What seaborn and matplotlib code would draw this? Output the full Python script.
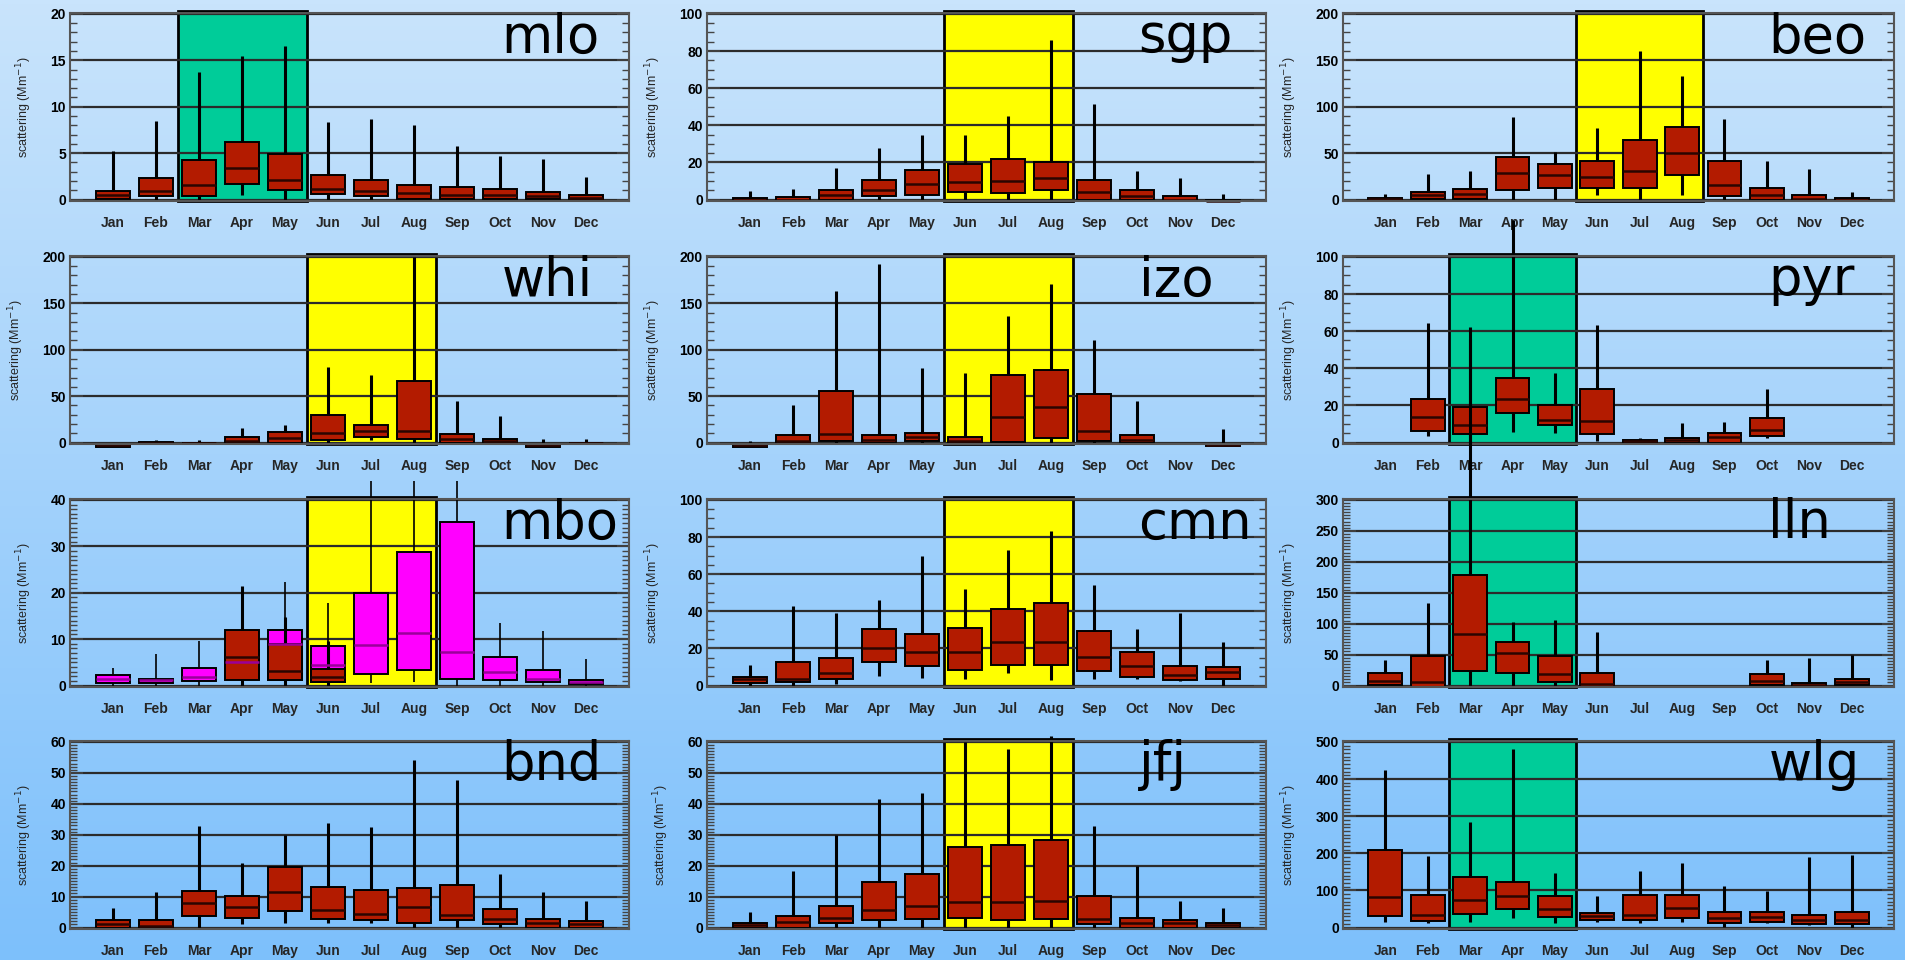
import matplotlib

matplotlib.use("Agg")
import matplotlib.pyplot as plt
import numpy as np
import pandas as pd
import seaborn as sns
from matplotlib.colors import LinearSegmentedColormap
from matplotlib.patches import Rectangle
from matplotlib.ticker import AutoMinorLocator, MultipleLocator

sns.set_theme(style="white")
plt.rcParams["font.family"] = ["Liberation Sans", "DejaVu Sans"]

MONTHS = ["Jan", "Feb", "Mar", "Apr", "May", "Jun",
          "Jul", "Aug", "Sep", "Oct", "Nov", "Dec"]

# monthly (whisker low, Q1, median, Q3, whisker high); None = no data
mlo = [(0, 0.05, 0.45, 0.95, 5.2), (0, 0.4, 0.93, 2.36, 8.5), (0, 0.4, 1.6, 4.3, 13.7),
       (0.45, 1.7, 3.4, 6.2, 15.5), (0, 1.0, 2.1, 4.9, 16.5), (0, 0.55, 1.1, 2.6, 8.4),
       (0, 0.4, 0.93, 2.1, 8.7), (0, 0.07, 0.75, 1.6, 8.0), (0, 0.07, 0.5, 1.4, 5.8),
       (0, 0.07, 0.45, 1.1, 4.7), (0, 0.05, 0.35, 0.8, 4.4), (0, 0.05, 0.2, 0.5, 2.4)]
sgp = [(-1, -0.8, 0, 1.0, 4.5), (-1, -0.8, 0, 1.1, 5.9), (0, -0.2, 2.7, 5.0, 17),
       (0, 1.8, 5.0, 10.5, 27.7), (0, 2.7, 8.6, 16, 34.8), (0, 4.3, 9.5, 19.1, 34.8),
       (0, 3.6, 9.8, 21.8, 45), (0, 5.0, 11.6, 20, 86), (0, 0, 4.1, 10.5, 51.4),
       (-0.5, -0.7, 1.8, 5, 15.5), (-1, -1, 0, 1.8, 11.6), (-1, -1, -0.7, -0.3, 2.9)]
beo = [(-1.4, -1.4, 0.3, 2, 6.4), (0, 0.4, 4.6, 8.2, 28), (0, 0.4, 6.4, 11.4, 30.7),
       (0, 10, 29, 45.7, 88.6), (0, 12.9, 26, 38.6, 51), (4.6, 12.9, 24.3, 41.4, 76.8),
       (0, 12.9, 30.4, 63.6, 160), (4.6, 26, 50, 77.9, 133), (0, 3.6, 16, 41, 86.8),
       (-1, -1.4, 4.6, 12.9, 42), (-1.4, -1.4, 1, 4.6, 32.5), (-1.4, -1.4, 0, 1.4, 8.2)]
whi = [(-4.7, -4.7, -3.2, -2.2, 0), (-1.8, -1.8, -0.4, 0.7, 2.5), (0, 0, 0, 0, 3),
       (-1, -1, 1.4, 6, 16), (0, -0.4, 5.4, 10.8, 19.4), (0, 3.2, 10.4, 30, 81.6),
       (3.2, 6.1, 12.6, 18.7, 72.7), (0, 4.3, 12.6, 66.5, 200), (0, -1, 3.6, 9, 44.6),
       (0, -1, 1.8, 4.3, 28.8), (-4.3, -4.3, -2.9, -1.8, 4.3), (0, 0, 0, 0, 4.3)]
izo = [(-4.3, -4.3, -2.9, -1.4, 1.8), (0, -0.7, 1.4, 7.9, 40.4), (0, 2.1, 9, 55.4, 163),
       (0, -0.7, 2.9, 7.9, 192), (0, 2.1, 6.4, 10, 80), (0, -1.4, 2.1, 6.4, 75),
       (0, 0.7, 27.9, 72.9, 136), (0, 4.6, 38.6, 78, 171), (0, 1.8, 12.5, 52, 110.7),
       (0, 0, 2.9, 7.9, 44.6), None, (-3.6, -3.6, -2.5, -1.4, 14.6)]
pyr = [None, (3.7, 6, 13.5, 23.2, 64.2), (0, 4.6, 9.4, 19.3, 55.6),
       (5.8, 15.8, 23.5, 34.5, 120), (5.1, 9.4, 12.2, 20.2, 37.7), (1, 4.6, 11.7, 28.8, 63.2),
       (0, -0.2, 0.7, 1.4, 2.3), (0, -0.2, 1.6, 2.7, 10.3), (0, -0.2, 2.8, 5.1, 11.2),
       (2.3, 3.7, 6.9, 13.1, 29), None, None]
mbo = [(0, 0.6, 1.3, 2.2, 3.7), (0, 0.6, 1.1, 1.5, 6.8), (0, 0.9, 1.9, 3.7, 9.7),
       (0, 1.4, 5, 7.7, 12), (0, 1.2, 9, 12, 22.4), (0, 0.7, 4.5, 8.6, 17.7),
       (0.6, 2.4, 8.7, 20, 44), (0.7, 3.4, 11.3, 28.8, 44), (0, 1.3, 7.2, 35.3, 44),
       (0, 1.2, 2.9, 6.2, 13.4), (0, 0.7, 1.3, 3.4, 11.7), (0, 0.4, 0.8, 1.2, 5.7)]
mbo_red = [None, None, None, (0, 1.1, 6.1, 12, 21.4), (0, 1.1, 3.1, 9, 14.7),
           (0, 0.8, 1.8, 3.6, 9.5), None, None, None, None, None, None]
cmn = [(0, 1.2, 3.3, 4.4, 11), (0, 2.1, 3.7, 12.8, 43), (0.7, 3.7, 6.8, 14.6, 39.3),
       (4.9, 12.5, 20.4, 30.4, 46.3), (4.2, 10.7, 18, 27.7, 70), (3.3, 8.4, 18, 30.9, 52),
       (6.8, 11, 23.3, 41.4, 73), (2.8, 11, 23.3, 44.4, 83), (3.7, 7.7, 15.6, 29.5, 54),
       (3.7, 4.6, 10.7, 18.2, 30.5), (2.3, 3.2, 5.4, 10.7, 39.3), (0, 3.7, 7.5, 9.8, 23.5)]
lln = [(0, 1, 8, 20.8, 41), (-3, -2.7, 5.3, 48, 133), (0, 24, 84, 178, 580),
       (0, 19.7, 52.8, 71, 102), (0, 5.3, 18.7, 47.5, 106.7), (-3, -2.7, 2, 20.8, 86),
       None, None, None,
       (0, 1, 8, 18.7, 41), (-3, -2.7, 1.6, 4.3, 44.8), (0, 1, 6.4, 11.2, 49)]
bnd = [(0, 0, 1.1, 2.3, 6.3), (0, 0, 0.5, 2.3, 11.4), (0, 3.7, 7.9, 11.7, 32.9),
       (1.1, 3.2, 6.6, 10.3, 21), (1.6, 5.2, 11.4, 19.7, 29.8), (1.3, 2.9, 5.7, 13.2, 33.7),
       (1.6, 2.3, 4.5, 12.1, 32.4), (0, 1.5, 6.6, 12.7, 54), (0, 2.3, 3.9, 13.7, 47.8),
       (0, 1.1, 2.9, 6.1, 17.2), (0, 0, 1.6, 2.9, 11.6), (0, 0, 1.1, 2.0, 8.7)]
jfj = [(0, 0, 0.7, 1.5, 5), (0, 0, 1.8, 3.7, 18.3), (0, 1.6, 3.1, 7.1, 29.8),
       (0, 2.3, 5.7, 14.6, 41.5), (0, 2.9, 7.1, 17.4, 43.5), (0, 3.2, 8.2, 26, 60),
       (0, 2.3, 8.2, 26.8, 57.7), (0, 2.9, 8.5, 28.2, 62), (0, 1, 2.6, 10.3, 32.9),
       (0, 0, 1.6, 3.2, 19.9), (0, 0, 1.3, 2.3, 8.7), (0, 0, 0.7, 1.5, 6.3)]
wlg = [(16, 32, 82, 209, 425), (11.5, 18, 34, 87, 193), (16, 36, 75, 135, 283),
       (26.5, 49, 84, 122, 480), (11.5, 27, 50, 85, 147), (16, 20, 32, 40, 84),
       (11.5, 20, 34, 87, 151), (16, 25, 53, 87, 175), (2.7, 11.5, 25, 42.5, 111),
       (11.5, 16, 29, 42.5, 98), (7, 10, 20, 35, 191), (0, 10, 20, 42.5, 195)]

STATIONS = ["mlo", "sgp", "beo", "whi", "izo", "pyr", "mbo", "cmn", "lln", "bnd", "jfj", "wlg"]
SERIES = [mlo, sgp, beo, whi, izo, pyr, mbo, cmn, lln, bnd, jfj, wlg]
YMAX = [20, 100, 200, 200, 200, 100, 40, 100, 300, 60, 60, 500]
YSTEP = [5, 20, 50, 50, 50, 20, 10, 20, 50, 10, 10, 100]
SEASON = [2, 5, 5, 5, 5, 2, 5, 5, 2, None, 5, 2]  # first month of highlighted season

RED = "#b31b00"
MAGENTA = "#ff00ff"
SEASON_COLORS = {2: "#00cc99", 5: "#ffff00"}
MINOR_N = [5, 4, 5, 5, 5, 4, 10, 4, 10, 10, 10, 10]

COL_LEFT = [70 / 1905, 707 / 1905, 1343 / 1905]
COL_W = [559 / 1905, 559 / 1905, 551 / 1905]
ROW_BOTTOM = [1 - 201 / 960, 1 - 444 / 960, 1 - 687 / 960, 1 - 929 / 960]
ROW_H = 188 / 960


def to_long(stats):
    rows = []
    for month, s in zip(MONTHS, stats):
        if s is None:
            continue
        # five values -> boxplot quartiles reproduce q1/median/q3 exactly
        for v in s:
            rows.append({"month": month, "value": v})
    return pd.DataFrame(rows)


def draw_boxes(ax, stats, colour, whisker_lw=2.2, median_colour="#2a0500"):
    sns.boxplot(data=to_long(stats), x="month", y="value", order=MONTHS,
                whis=(0, 100), width=0.8, color=colour, saturation=1,
                linecolor="black", linewidth=1.4, showcaps=False,
                showfliers=False, whiskerprops={"linewidth": whisker_lw},
                medianprops={"linewidth": 1.8, "color": median_colour}, ax=ax)


fig = plt.figure(figsize=(19.05, 9.6), dpi=100)

# gradient background
bg = fig.add_axes([0, 0, 1, 1], zorder=-10)
cmap = LinearSegmentedColormap.from_list("sky", ["#7dc0fb", "#c9e4fc"])
bg.imshow(np.linspace(0, 1, 256).reshape(-1, 1), aspect="auto", cmap=cmap,
          origin="lower", extent=[0, 1, 0, 1])
bg.axis("off")

for i, name in enumerate(STATIONS):
    r, c = divmod(i, 3)
    ax = fig.add_axes([COL_LEFT[c], ROW_BOTTOM[r], COL_W[c], ROW_H])
    ax.patch.set_alpha(0)
    ymax = YMAX[i]

    if name == "mbo":
        draw_boxes(ax, mbo, MAGENTA, whisker_lw=1.2, median_colour="#9a009a")
        draw_boxes(ax, mbo_red, RED)
    else:
        draw_boxes(ax, SERIES[i], RED)
    for art in ax.lines + ax.patches:
        art.set_clip_on(False)

    if SEASON[i] is not None:
        ax.add_patch(Rectangle((SEASON[i] - 0.5, 0), 3, 1.012,
                               transform=ax.get_xaxis_transform(),
                               facecolor=SEASON_COLORS[SEASON[i]], edgecolor="black",
                               linewidth=2, zorder=0.3, clip_on=False))

    ax.set_xlim(-1, 12)
    ax.set_ylim(-0.008 * ymax, ymax * 1.005)
    ax.yaxis.set_major_locator(MultipleLocator(YSTEP[i]))
    ax.yaxis.set_minor_locator(AutoMinorLocator(MINOR_N[i]))
    ax.set_axisbelow(True)
    ax.yaxis.grid(True, which="major", color="#2b2b2b", linewidth=1.6)
    ax.tick_params(axis="y", which="both", left=True, right=True, direction="in",
                   colors="#444444", labelcolor="black", labelsize=10, pad=3)
    ax.tick_params(axis="y", which="major", length=9, width=1.2)
    ax.tick_params(axis="y", which="minor", length=5, width=1.0)
    ax.tick_params(axis="x", length=0, labelsize=10, pad=11)
    for lab in ax.get_yticklabels() + ax.get_xticklabels():
        lab.set_fontweight("bold")
    for sp in ax.spines.values():
        sp.set_color("#555555")
        sp.set_linewidth(1.5)
    ax.set_xlabel("")
    ax.set_ylabel("scattering (Mm$^{-1}$)", fontsize=9, labelpad=12)
    ax.text(0.772, 0.79, name, transform=ax.transAxes, fontsize=38,
            family="DejaVu Sans", ha="left", va="baseline", color="black", zorder=5)

fig.savefig("out.png", dpi=100)
